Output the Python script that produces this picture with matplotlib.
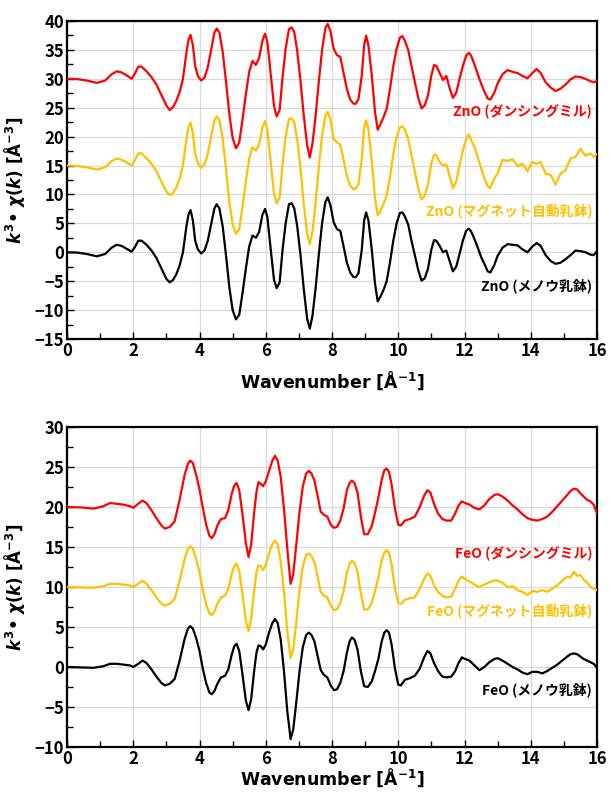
import matplotlib
matplotlib.use("Agg")
import matplotlib.pyplot as plt
from matplotlib.ticker import MultipleLocator

plt.rcParams['font.family'] = ['Noto Sans CJK JP', 'DejaVu Sans']
plt.rcParams['mathtext.fontset'] = 'custom'
plt.rcParams['mathtext.it'] = 'DejaVu Sans:italic:bold'
plt.rcParams['mathtext.rm'] = 'DejaVu Sans:bold'
plt.rcParams['mathtext.bf'] = 'DejaVu Sans:bold'

# ---------------- ZnO panel data ----------------
k_zno = [0, 0.3, 0.6, 0.9, 1.15, 1.35, 1.5, 1.65, 1.8, 1.95, 2.05, 2.15, 2.25, 2.4, 2.55, 2.7, 2.85,
         3.0, 3.1, 3.2, 3.3, 3.4, 3.5, 3.6, 3.67, 3.73, 3.8, 3.87, 3.95, 4.05, 4.15, 4.25, 4.35,
         4.45, 4.52, 4.6, 4.7, 4.8, 4.9, 5.0, 5.1, 5.2, 5.3, 5.4, 5.5, 5.6, 5.7, 5.8, 5.9, 5.98,
         6.05, 6.15, 6.25, 6.33, 6.42, 6.5, 6.6, 6.7, 6.78, 6.86, 6.95, 7.05, 7.15, 7.25, 7.33,
         7.41, 7.5, 7.6, 7.7, 7.8, 7.87, 7.95, 8.05, 8.15, 8.25, 8.35, 8.45, 8.55, 8.65, 8.72,
         8.8, 8.9, 8.97, 9.03, 9.1, 9.2, 9.3, 9.38, 9.45, 9.55, 9.65, 9.75, 9.85, 9.95, 10.05,
         10.12, 10.2, 10.3, 10.4, 10.5, 10.6, 10.7, 10.8, 10.9, 11.0, 11.08, 11.15, 11.25, 11.35,
         11.45, 11.55, 11.65, 11.75, 11.85, 11.95, 12.05, 12.13, 12.2, 12.3, 12.4, 12.5, 12.6,
         12.7, 12.78, 12.9, 13.0, 13.15, 13.3, 13.45, 13.6, 13.75, 13.9, 14.05, 14.18, 14.3,
         14.45, 14.6, 14.75, 14.9, 15.05, 15.2, 15.35, 15.5, 15.65, 15.8, 15.9, 16.0]

zno_agate = [0, -0.05, -0.3, -0.7, -0.3, 0.8, 1.3, 1.1, 0.6, 0.1, 0.9, 2.0, 2.0, 1.3, 0.3, -1.0, -2.8,
             -4.6, -5.2, -4.8, -3.8, -2.3, 0.0, 4.3, 6.6, 7.3, 5.5, 2.0, 0.5, -0.2, 0.3, 2.0, 4.8,
             7.6, 8.3, 7.6, 4.5, -0.5, -6.0, -10.0, -11.6, -10.8, -7.0, -2.8, 1.0, 2.9, 2.5, 3.5, 6.5, 7.5,
             6.0, 0.5, -4.8, -6.2, -5.2, 0.0, 5.0, 8.3, 8.5, 7.6, 4.5, -0.5, -6.5, -11.5, -13.2,
             -11.0, -6.5, -0.5, 5.0, 8.7, 9.5, 8.2, 5.2, 4.0, 3.7, 1.0, -1.8, -3.5, -4.3, -4.3,
             -3.6, 0.5, 5.5, 6.9, 5.5, 0.5, -5.5, -8.5, -7.8, -6.6, -5.0, -1.8, 2.0, 5.0, 6.8,
             6.9, 6.2, 4.8, 2.0, -0.5, -3.0, -4.9, -4.5, -2.8, 0.5, 2.1, 2.0, 1.1, 0.0,
             0.3, -1.5, -3.3, -2.5, -0.3, 2.0, 3.7, 4.1, 3.6, 2.3, 0.8, -0.8, -2.0,
             -3.3, -3.5, -2.2, -0.6, 0.8, 1.4, 1.3, 1.2, 0.5, 0.0, 1.0, 1.6, 1.1,
             -0.5, -1.5, -2.0, -1.8, -1.2, -0.5, 0.3, 0.2, 0.0, -0.4, -0.5, 0.2]

zno_mill = [30.0, 29.95, 29.7, 29.3, 29.7, 30.8, 31.3, 31.1, 30.6, 30.0, 30.9, 32.1, 32.1, 31.3, 30.3, 29.0, 27.2,
            25.4, 24.6, 25.1, 26.2, 27.7, 30.0, 34.3, 36.8, 37.6, 35.8, 32.2, 30.5, 29.7, 30.2, 32.0, 35.0,
            38.0, 38.7, 38.0, 34.7, 29.5, 24.0, 19.8, 18.0, 19.0, 23.0, 27.3, 31.2, 33.1, 32.4, 33.6, 36.6, 37.8,
            36.3, 30.8, 25.3, 23.5, 24.6, 29.8, 35.2, 38.6, 38.9, 38.1, 34.8, 29.6, 23.5, 18.5, 16.4,
            18.8, 23.3, 29.4, 35.0, 38.8, 39.5, 38.3, 35.2, 34.1, 33.8, 31.0, 28.2, 26.4, 25.7, 25.7,
            26.5, 30.6, 35.8, 37.5, 35.8, 30.6, 24.2, 21.2, 22.0, 23.3, 24.8, 28.2, 32.2, 35.2, 37.1,
            37.4, 36.6, 35.0, 32.2, 29.5, 26.8, 24.9, 25.4, 27.2, 30.6, 32.4, 32.2, 31.0, 29.8,
            30.5, 28.4, 26.7, 27.6, 30.0, 32.2, 34.0, 34.5, 34.0, 32.5, 30.8, 29.2, 27.8,
            26.6, 26.4, 27.6, 29.2, 30.8, 31.5, 31.2, 31.0, 30.5, 30.1, 31.0, 31.7, 31.0,
            29.4, 28.5, 27.9, 28.3, 29.0, 29.9, 30.4, 30.3, 30.0, 29.6, 29.4, 29.6]

zno_magnet = [15.0, 14.95, 14.7, 14.3, 14.7, 15.8, 16.2, 16.0, 15.5, 15.0, 15.9, 17.1, 17.1, 16.3, 15.3, 14.0, 12.2,
              10.5, 9.9, 10.2, 11.2, 12.7, 15.0, 19.4, 21.7, 22.4, 20.6, 17.0, 15.4, 14.6, 15.2, 17.0, 20.0,
              22.8, 23.5, 22.9, 19.6, 14.4, 8.8, 4.8, 3.2, 4.0, 8.0, 12.3, 16.2, 18.2, 17.6, 18.6, 21.6, 22.7,
              21.2, 15.6, 10.2, 8.4, 9.5, 14.8, 20.0, 23.0, 23.2, 22.5, 19.5, 14.4, 8.2, 3.2, 1.4,
              3.6, 8.3, 14.6, 20.2, 23.6, 24.3, 23.0, 19.6, 19.0, 18.6, 16.0, 13.2, 11.5, 10.9, 11.0,
              11.8, 16.2, 21.5, 22.8, 21.2, 15.8, 9.3, 6.4, 7.0, 8.3, 9.8, 13.0, 17.0, 20.0, 21.6,
              21.8, 21.2, 19.6, 16.8, 14.0, 11.2, 9.1, 9.8, 11.8, 15.4, 16.9, 16.8, 15.6, 15.0,
              15.2, 13.2, 11.1, 12.2, 15.0, 17.6, 19.6, 20.4, 19.4, 18.2, 16.4, 14.6, 12.8,
              11.4, 11.1, 12.8, 13.6, 16.0, 15.8, 16.1, 14.9, 15.3, 14.0, 15.6, 15.3, 15.6,
              13.6, 13.4, 11.7, 13.6, 14.2, 16.2, 16.5, 17.9, 16.7, 17.1, 16.5, 17.0]

# ---------------- FeO panel data ----------------
k_feo = [0, 0.4, 0.8, 1.1, 1.3, 1.5, 1.7, 1.9, 2.0, 2.15, 2.28, 2.4, 2.55, 2.7, 2.85, 2.95, 3.1, 3.25,
         3.4, 3.55, 3.65, 3.72, 3.8, 3.9, 4.0, 4.1, 4.2, 4.3, 4.37, 4.45, 4.55, 4.65, 4.77, 4.87, 4.97,
         5.05, 5.12, 5.2, 5.3, 5.4, 5.48, 5.56, 5.65, 5.72, 5.78, 5.85, 5.92, 6.0, 6.1, 6.2, 6.28,
         6.36, 6.45, 6.55, 6.65, 6.75, 6.83, 6.92, 7.02, 7.12, 7.22, 7.3, 7.38, 7.47, 7.56, 7.66,
         7.76, 7.86, 7.96, 8.06, 8.15, 8.25, 8.35, 8.45, 8.53, 8.6, 8.68, 8.77, 8.87, 8.97, 9.08,
         9.2, 9.3, 9.4, 9.5, 9.58, 9.65, 9.72, 9.8, 9.9, 10.0, 10.08, 10.2, 10.35, 10.5, 10.65,
         10.78, 10.88, 10.97, 11.08, 11.2, 11.33, 11.46, 11.6, 11.72, 11.82, 11.92, 12.02, 12.15,
         12.3, 12.45, 12.6, 12.75, 12.9, 13.0, 13.15, 13.3, 13.45, 13.6, 13.75, 13.9, 14.05, 14.2,
         14.35, 14.5, 14.65, 14.8, 14.95, 15.1, 15.2, 15.3, 15.4, 15.5, 15.6, 15.7, 15.8, 15.9, 16.0]

feo_agate = [0, -0.05, -0.1, 0.1, 0.4, 0.4, 0.3, 0.2, 0.0, 0.4, 0.8, 0.5, -0.3, -1.2, -2.0, -2.3, -2.1, -1.5,
             0.8, 3.5, 4.8, 5.1, 4.8, 3.6, 2.0, -0.2, -2.0, -3.2, -3.4, -3.0, -2.0, -1.3, -1.1, -0.3, 1.5,
             2.6, 2.9, 2.0, -1.0, -4.2, -5.4, -4.0, -0.5, 1.8, 2.7, 2.6, 2.2, 2.8, 4.3, 5.5, 6.0,
             5.5, 3.5, -0.5, -5.5, -9.0, -7.8, -4.5, -0.5, 2.5, 4.0, 4.3, 4.0, 3.2, 1.5, -0.4,
             -1.0, -1.3, -2.3, -2.9, -2.8, -2.0, -0.5, 1.8, 3.2, 3.7, 3.4, 2.2, -0.5, -2.4, -2.5,
             -1.8, -0.5, 1.0, 3.2, 4.3, 4.6, 4.3, 2.8, -0.2, -2.2, -2.3, -1.6, -1.4, -1.1, -0.2,
             1.2, 2.0, 1.7, 0.5, -0.5, -1.2, -1.3, -1.2, -0.5, 0.5, 1.2, 1.0, 0.8,
             0.2, -0.4, 0.0, 0.6, 1.0, 1.1, 0.8, 0.4, 0.0, -0.3, -0.7, -0.9, -0.6, -0.6,
             -0.8, -0.5, -0.1, 0.3, 0.8, 1.3, 1.6, 1.7, 1.6, 1.3, 1.0, 0.8, 0.6, 0.4, -0.1]

feo_mill = [20.0, 19.95, 19.8, 20.1, 20.5, 20.4, 20.3, 20.1, 19.9, 20.4, 20.8, 20.5, 19.6, 18.6, 17.7, 17.3, 17.5, 18.2,
            20.9, 24.0, 25.4, 25.8, 25.5, 24.0, 22.2, 19.9, 17.8, 16.4, 16.1, 16.6, 17.8, 18.5, 18.6, 19.6, 21.6,
            22.7, 23.0, 22.1, 19.0, 15.5, 13.75, 15.3, 19.3, 21.9, 23.1, 22.9, 22.6, 23.2, 24.5, 25.8, 26.4,
            25.8, 23.8, 19.8, 14.8, 10.4, 11.6, 15.2, 19.4, 22.6, 24.2, 24.5, 24.2, 23.3, 21.5, 19.4,
            19.0, 18.8, 17.8, 17.4, 17.5, 18.3, 19.8, 22.1, 23.0, 23.3, 23.0, 21.8, 18.8, 16.6, 16.6,
            17.6, 19.3, 21.2, 23.4, 24.6, 24.8, 24.4, 22.8, 19.8, 17.8, 17.7, 18.3, 18.5, 18.8, 20.0,
            21.4, 22.1, 21.8, 20.4, 19.2, 18.5, 18.3, 18.3, 19.2, 20.2, 20.7, 20.5, 20.3,
            19.9, 19.7, 20.2, 21.0, 21.5, 21.6, 21.3, 20.8, 20.2, 19.7, 19.1, 18.6, 18.4, 18.3,
            18.5, 18.8, 19.4, 20.1, 20.8, 21.5, 22.0, 22.3, 22.2, 21.7, 21.3, 20.9, 20.7, 20.3, 19.2]

feo_magnet = [10.0, 9.95, 9.9, 10.1, 10.4, 10.4, 10.3, 10.2, 10.0, 10.4, 10.8, 10.4, 9.6, 8.7, 7.9, 7.7, 7.9, 8.5,
              10.8, 13.5, 14.8, 15.1, 14.8, 13.5, 11.8, 9.6, 7.8, 6.7, 6.5, 6.9, 8.0, 8.7, 8.9, 9.8, 11.6,
              12.6, 12.9, 12.0, 9.0, 5.8, 4.5, 6.0, 9.5, 11.9, 12.7, 12.6, 12.1, 12.8, 14.2, 15.4, 15.8,
              15.3, 13.3, 9.4, 4.5, 1.1, 2.2, 5.5, 9.6, 12.6, 14.0, 14.2, 13.9, 13.1, 11.4, 9.4,
              8.9, 8.7, 7.7, 7.1, 7.2, 8.0, 9.5, 11.8, 12.9, 13.3, 13.0, 11.9, 9.2, 7.2, 7.2,
              8.0, 9.5, 11.2, 13.3, 14.3, 14.6, 14.3, 12.8, 9.8, 8.0, 7.9, 8.4, 8.6, 8.7, 9.8,
              11.0, 11.7, 11.4, 10.2, 9.4, 8.9, 8.7, 8.8, 9.8, 10.8, 11.3, 11.0, 10.7,
              10.3, 10.0, 10.3, 10.6, 10.8, 10.8, 10.5, 10.0, 10.1, 9.6, 9.4, 9.0, 9.5, 9.4,
              9.6, 9.4, 9.8, 10.2, 10.8, 11.3, 11.2, 11.9, 11.4, 11.5, 10.9, 10.6, 10.0, 9.8, 9.6]

labels_zno = ["ZnO (ダンシングミル)", "ZnO (マグネット自動乳鉢)", "ZnO (メノウ乳鉢)"]
labels_feo = ["FeO (ダンシングミル)", "FeO (マグネット自動乳鉢)", "FeO (メノウ乳鉢)"]
colors = ["#FF0000", "#FFC000", "#000000"]

W, H = 609, 798
fig = plt.figure(figsize=(W / 100, H / 100), dpi=100)


def setup(ax, ylo, yhi, ystep, xpad):
    ax.set_xlim(0, 16)
    ax.set_ylim(ylo, yhi)
    ax.xaxis.set_major_locator(MultipleLocator(2))
    ax.xaxis.set_minor_locator(MultipleLocator(1))
    ax.yaxis.set_major_locator(MultipleLocator(ystep))
    ax.yaxis.set_minor_locator(MultipleLocator(ystep / 2))
    ax.grid(True, which='major', color='#d9d9d9', linewidth=0.9, zorder=0)
    ax.tick_params(which='both', direction='in', width=1.0, labelsize=12, pad=2)
    ax.tick_params(which='major', length=5)
    ax.tick_params(which='minor', length=4)
    for lab in ax.get_xticklabels() + ax.get_yticklabels():
        lab.set_fontweight('bold')
    for s in ax.spines.values():
        s.set_linewidth(1.6)
    ax.set_axisbelow(True)
    ax.set_xlabel("Wavenumber [Å$^{-1}$]", fontsize=12.5, fontweight='bold',
                  family='DejaVu Sans', labelpad=xpad)
    ax.set_ylabel(r"$k^{3}$• $\chi(k)$ [Å$^{-3}$]", fontsize=12, fontweight='bold',
                  family='DejaVu Sans')


ax1 = fig.add_axes([67 / W, 1 - 339 / H, 530 / W, 318 / H])
ax1.plot(k_zno, zno_mill, color=colors[0], lw=1.6, zorder=3)
ax1.plot(k_zno, zno_magnet, color=colors[1], lw=1.6, zorder=3)
ax1.plot(k_zno, zno_agate, color=colors[2], lw=1.6, zorder=3)
setup(ax1, -15, 40, 5, 7)
for lab, c, yy in zip(labels_zno, colors, [24.3, 7.2, -5.8]):
    ax1.text(15.85, yy, lab, color=c, fontsize=10, fontweight='bold', ha='right', va='center')

ax2 = fig.add_axes([67 / W, 1 - 747 / H, 530 / W, 320 / H])
ax2.plot(k_feo, feo_mill, color=colors[0], lw=1.6, zorder=3)
ax2.plot(k_feo, feo_magnet, color=colors[1], lw=1.6, zorder=3)
ax2.plot(k_feo, feo_agate, color=colors[2], lw=1.6, zorder=3)
setup(ax2, -10, 30, 5, -1)
for lab, c, yy in zip(labels_feo, colors, [14.1, 7.0, -2.9]):
    ax2.text(15.85, yy, lab, color=c, fontsize=10, fontweight='bold', ha='right', va='center')

for ax in (ax1, ax2):
    ax.yaxis.set_label_coords(-0.075, 0.5)

fig.savefig("out.png", dpi=100)
